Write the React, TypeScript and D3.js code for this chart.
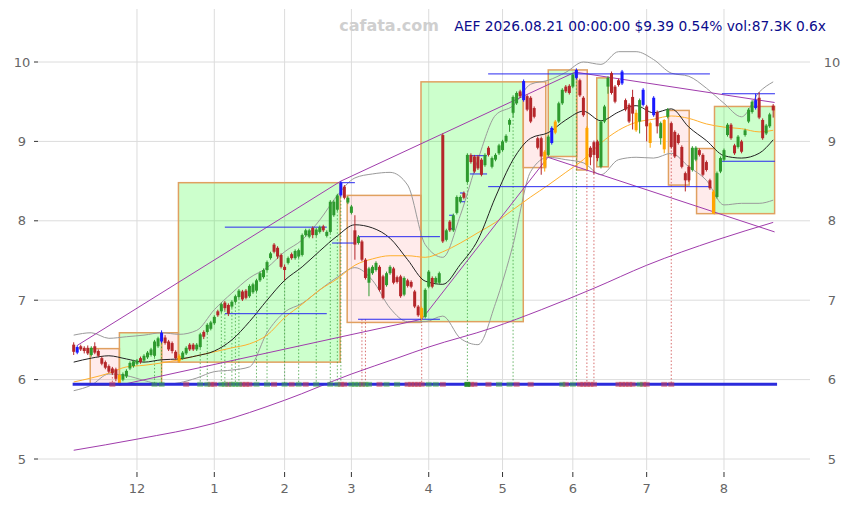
import React from "react";
import * as d3 from "d3";

// month ticks (trading-day index of first session of each month)
const monthIdx = [18, 40, 60, 79, 101, 122, 142, 163, 185];
const monthLabels = ["12", "1", "2", "3", "4", "5", "6", "7", "8"];
const priceTicks = [5, 6, 7, 8, 9, 10];

// daily candles, AEF, 2025-11-04 .. 2026-08-21
const opens = [
  6.44, 6.34, 6.42, 6.40, 6.40, 6.31, 6.42, 6.36, 6.27, 6.22, 6.17, 6.14, 6.13, 6.06, 6.00, 6.04, 6.14, 6.17, 6.20, 6.27,
  6.24, 6.28, 6.31, 6.30, 6.42, 6.48, 6.53, 6.48, 6.46, 6.35, 6.30, 6.27, 6.33, 6.44, 6.44, 6.38, 6.41, 6.60, 6.60, 6.64,
  6.71, 6.86, 6.86, 6.97, 6.94, 6.92, 6.98, 7.04, 7.11, 7.12, 7.05, 7.10, 7.12, 7.25, 7.29, 7.38, 7.53, 7.70, 7.66, 7.57,
  7.42, 7.47, 7.58, 7.53, 7.55, 7.57, 7.82, 7.80, 7.91, 7.82, 7.86, 7.93, 7.81, 7.86, 8.07, 8.14, 8.32, 8.43, 8.23, 8.10,
  7.88, 7.72, 7.74, 7.51, 7.22, 7.34, 7.38, 7.42, 7.30, 7.19, 7.34, 7.40, 7.29, 7.30, 7.07, 7.25, 7.23, 7.11, 6.92, 6.90,
  6.79, 7.17, 7.28, 7.22, 7.22, 9.08, 7.76, 7.99, 7.88, 8.10, 8.24, 8.35, 8.49, 8.83, 8.81, 8.81, 8.77, 8.70, 8.92, 8.68,
  8.77, 8.85, 8.89, 9.00, 9.21, 9.36, 9.48, 9.63, 9.52, 9.57, 9.55, 9.42, 9.04, 9.04, 8.87, 8.83, 8.98, 9.11, 9.25, 9.48,
  9.69, 9.70, 9.69, 9.80, 9.77, 9.55, 9.17, 8.92, 8.99, 9.00, 8.68, 9.25, 9.69, 9.86, 9.69, 9.77, 9.73, 9.52, 9.46, 9.56,
  9.36, 9.25, 9.46, 9.44, 9.23, 9.33, 9.37, 9.04, 9.27, 9.31, 9.23, 9.12, 9.08, 8.93, 8.60, 8.68, 8.64, 8.77, 8.89, 8.83,
  8.74, 8.51, 8.37, 8.30, 8.62, 8.77, 9.08, 9.21, 8.95, 8.93, 9.00, 9.08, 9.25, 9.37, 9.42, 9.55, 9.27, 9.10, 9.19, 9.45,
];
const closes = [
  6.35, 6.41, 6.38, 6.36, 6.33, 6.40, 6.34, 6.30, 6.20, 6.15, 6.10, 6.08, 6.01, 5.95, 6.07, 6.11, 6.21, 6.23, 6.24, 6.22,
  6.30, 6.34, 6.38, 6.48, 6.52, 6.59, 6.46, 6.38, 6.36, 6.27, 6.23, 6.34, 6.40, 6.38, 6.38, 6.44, 6.57, 6.54, 6.69, 6.72,
  6.79, 6.81, 6.95, 6.90, 6.83, 6.98, 7.05, 7.12, 7.01, 7.03, 7.18, 7.20, 7.25, 7.34, 7.38, 7.48, 7.59, 7.61, 7.55, 7.42,
  7.38, 7.53, 7.53, 7.62, 7.63, 7.82, 7.88, 7.88, 7.82, 7.89, 7.92, 7.88, 7.86, 8.24, 8.24, 8.32, 8.48, 8.29, 8.29, 8.18,
  7.70, 7.80, 7.51, 7.28, 7.40, 7.42, 7.47, 7.13, 7.03, 7.34, 7.42, 7.22, 7.23, 7.05, 7.28, 7.18, 7.17, 6.92, 6.81, 6.78,
  7.13, 7.36, 7.17, 7.28, 7.34, 7.74, 7.88, 7.88, 8.07, 8.30, 8.30, 8.29, 8.83, 8.74, 8.62, 8.66, 8.58, 8.83, 8.83, 8.79,
  8.83, 8.95, 9.00, 9.07, 9.27, 9.56, 9.61, 9.57, 9.76, 9.40, 9.25, 9.31, 8.92, 8.81, 8.68, 9.06, 9.17, 9.25, 9.48, 9.65,
  9.63, 9.61, 9.84, 9.90, 9.58, 9.33, 8.70, 8.80, 8.83, 8.79, 9.25, 9.44, 9.80, 9.61, 9.50, 9.71, 9.88, 9.40, 9.25, 9.35,
  9.14, 9.52, 9.65, 9.19, 8.98, 9.55, 9.19, 9.23, 8.90, 9.40, 8.93, 8.81, 8.98, 8.68, 8.51, 8.51, 8.92, 8.92, 8.83, 8.58,
  8.64, 8.41, 8.09, 8.60, 8.79, 8.89, 9.21, 9.04, 8.85, 9.06, 8.87, 9.14, 9.40, 9.50, 9.52, 9.30, 9.04, 9.20, 9.34, 9.39,
];
const highs = [
  6.47, 6.43, 6.44, 6.42, 6.43, 6.42, 6.47, 6.38, 6.29, 6.24, 6.19, 6.16, 6.15, 6.07, 6.09, 6.13, 6.23, 6.25, 6.26, 6.29,
  6.32, 6.36, 6.40, 6.50, 6.54, 6.62, 6.56, 6.50, 6.48, 6.37, 6.32, 6.36, 6.42, 6.46, 6.46, 6.46, 6.59, 6.62, 6.71, 6.74,
  6.81, 6.88, 6.97, 6.99, 6.96, 7.00, 7.07, 7.14, 7.13, 7.14, 7.20, 7.22, 7.27, 7.36, 7.40, 7.50, 7.61, 7.72, 7.68, 7.59,
  7.45, 7.55, 7.60, 7.64, 7.65, 7.84, 7.90, 7.90, 7.93, 7.91, 7.94, 7.95, 7.88, 8.26, 8.26, 8.34, 8.50, 8.45, 8.31, 8.20,
  8.07, 7.82, 7.76, 7.53, 7.42, 7.44, 7.49, 7.44, 7.32, 7.36, 7.44, 7.42, 7.31, 7.32, 7.30, 7.27, 7.25, 7.13, 6.94, 6.92,
  7.15, 7.38, 7.30, 7.30, 7.36, 9.10, 7.90, 8.01, 8.09, 8.32, 8.32, 8.37, 8.85, 8.85, 8.83, 8.83, 8.79, 8.85, 8.94, 8.81,
  8.85, 8.97, 9.02, 9.09, 9.29, 9.58, 9.63, 9.65, 9.78, 9.59, 9.57, 9.44, 9.06, 9.06, 8.89, 9.08, 9.19, 9.27, 9.50, 9.67,
  9.71, 9.72, 9.86, 9.92, 9.79, 9.57, 9.19, 8.94, 9.01, 9.02, 9.27, 9.46, 9.82, 9.88, 9.71, 9.79, 9.90, 9.54, 9.48, 9.65,
  9.40, 9.54, 9.67, 9.46, 9.25, 9.57, 9.39, 9.25, 9.28, 9.42, 9.25, 9.14, 9.10, 8.95, 8.62, 8.70, 8.94, 8.94, 8.91, 8.85,
  8.76, 8.53, 8.39, 8.62, 8.81, 8.91, 9.23, 9.23, 8.97, 9.08, 9.02, 9.16, 9.42, 9.52, 9.60, 9.62, 9.29, 9.22, 9.36, 9.47,
];
const lows = [
  6.31, 6.32, 6.36, 6.33, 6.31, 6.29, 6.32, 6.28, 6.18, 6.13, 6.08, 6.06, 5.98, 5.93, 5.98, 6.02, 6.12, 6.15, 6.18, 6.20,
  6.22, 6.26, 6.29, 6.28, 6.40, 6.46, 6.44, 6.36, 6.33, 6.25, 6.21, 6.25, 6.31, 6.36, 6.36, 6.36, 6.39, 6.51, 6.58, 6.62,
  6.69, 6.79, 6.84, 6.87, 6.80, 6.90, 6.96, 7.02, 6.99, 7.01, 7.03, 7.08, 7.10, 7.23, 7.27, 7.36, 7.51, 7.59, 7.52, 7.40,
  7.25, 7.45, 7.51, 7.51, 7.53, 7.55, 7.80, 7.78, 7.78, 7.80, 7.84, 7.86, 7.79, 7.84, 8.05, 8.12, 8.30, 8.27, 8.21, 8.08,
  7.51, 7.70, 7.49, 7.26, 7.05, 7.32, 7.36, 7.11, 7.01, 7.17, 7.32, 7.20, 7.21, 7.03, 7.05, 7.16, 7.15, 6.90, 6.79, 6.75,
  6.77, 7.15, 7.15, 7.20, 7.20, 7.72, 7.74, 7.86, 7.86, 8.08, 8.22, 8.27, 8.47, 8.72, 8.60, 8.64, 8.56, 8.68, 8.81, 8.66,
  8.75, 8.83, 8.87, 8.98, 9.12, 9.30, 9.46, 9.55, 9.50, 9.38, 9.23, 9.29, 8.90, 8.58, 8.62, 8.81, 8.96, 9.09, 9.23, 9.46,
  9.61, 9.59, 9.67, 9.78, 9.56, 9.31, 8.64, 8.70, 8.58, 8.75, 8.66, 9.23, 9.60, 9.59, 9.48, 9.69, 9.71, 9.38, 9.23, 9.15,
  9.12, 9.10, 9.44, 9.00, 8.92, 9.31, 9.10, 8.96, 8.85, 9.29, 8.91, 8.79, 8.96, 8.66, 8.37, 8.49, 8.62, 8.75, 8.81, 8.56,
  8.62, 8.39, 8.09, 8.28, 8.60, 8.75, 9.06, 9.02, 8.83, 8.91, 8.85, 9.06, 9.23, 9.35, 9.40, 9.28, 9.02, 9.08, 9.17, 9.30,
];
const blueIdx = [1, 25, 76, 128, 136, 143, 156, 162, 165, 194];
const orangeIdx = [13, 30, 99, 134, 137, 146, 160, 164, 168, 182];

// indicator lines, sampled every 5 sessions
const sampleIdx = [
  0, 5, 10, 15, 20, 25, 30, 35, 40, 45, 50, 55, 60, 65, 70, 75, 80, 85, 90, 95, 100,
  105, 110, 115, 120, 125, 130, 135, 140, 145, 150, 155, 160, 165, 170, 175, 180, 185, 190, 195, 199,
];
const maFast = [
  6.22, 6.27, 6.30, 6.26, 6.22, 6.25, 6.26, 6.30, 6.36, 6.50, 6.73, 7.00, 7.25, 7.42, 7.62, 7.81, 7.95, 7.91, 7.78, 7.51, 7.24,
  7.20, 7.45, 7.76, 8.30, 8.77, 9.04, 9.11, 9.27, 9.38, 9.26, 9.37, 9.45, 9.36, 9.41, 9.18, 9.01, 8.82, 8.79, 8.85, 9.02,
];
const maSlow = [
  5.97, 6.02, 6.08, 6.16, 6.18, 6.21, 6.25, 6.30, 6.35, 6.40, 6.45, 6.56, 6.78, 6.95, 7.13, 7.27, 7.44, 7.52, 7.56, 7.56, 7.54,
  7.61, 7.72, 7.85, 7.98, 8.14, 8.30, 8.45, 8.61, 8.77, 8.98, 9.14, 9.24, 9.28, 9.32, 9.29, 9.22, 9.18, 9.16, 9.12, 9.14,
];
const bandUpper = [
  6.56, 6.59, 6.52, 6.54, 6.56, 6.59, 6.57, 6.62, 6.88, 7.09, 7.28, 7.41, 7.61, 7.76, 8.01, 8.32, 8.54, 8.59, 8.61, 8.45, 7.70,
  7.54, 8.07, 8.77, 9.33, 9.45, 9.72, 9.77, 9.87, 10.0, 9.97, 10.13, 10.13, 10.03, 9.86, 9.82, 9.67, 9.48, 9.31, 9.62, 9.75,
];
const bandLower = [
  5.86, 5.93, 6.07, 6.05, 5.99, 5.94, 5.96, 6.02, 6.10, 6.12, 6.16, 6.59, 6.85, 6.96, 7.13, 7.29, 7.41, 7.25, 6.90, 6.73, 6.73,
  6.80, 6.52, 6.44, 6.96, 7.70, 8.62, 8.80, 8.77, 8.73, 8.58, 8.77, 8.80, 8.79, 8.85, 8.68, 8.51, 8.20, 8.22, 8.22, 8.26,
];

// long purple curve
const curveIdx = [0, 18, 40, 60, 79, 92, 101, 119, 133, 148, 163, 183, 199];
const curvePrice = [5.11, 5.25, 5.45, 5.74, 6.07, 6.27, 6.41, 6.65, 6.88, 7.15, 7.44, 7.76, 7.98];

// straight trend lines: [fromIdx, fromPrice, toIdx, toPrice]
const trendLines = [
  [1, 6.43, 76, 8.5],
  [76, 8.5, 143, 9.88],
  [143, 9.87, 199.4, 9.49],
  [13, 5.93, 99, 6.76],
  [99, 6.76, 134.9, 8.8],
  [134.9, 8.8, 199.4, 7.86],
];

// boxes: swing ranges
const boxFrom = [4.7, 13.0, 25.0, 29.8, 77.8, 98.8, 127.9, 135.0, 143.1, 148.8, 169.2, 177.2, 182.3];
const boxTo = [13.0, 25.0, 29.8, 75.8, 98.8, 127.9, 134.3, 143.1, 146.1, 152.1, 175.1, 182.3, 199.4];
const boxTop = [6.39, 6.59, 6.59, 8.48, 8.32, 9.75, 9.75, 9.9, 9.9, 9.8, 9.39, 8.91, 9.44];
const boxBottom = [5.93, 5.93, 6.22, 6.22, 6.72, 6.73, 8.67, 8.81, 8.64, 8.68, 8.45, 8.09, 8.09];
const boxUp = [false, true, false, true, false, true, false, true, false, true, false, false, true];

// blue level segments: [fromIdx, toIdx, price]
const levels = [
  [43, 72, 6.83], [43, 72, 7.92], [73.5, 80, 7.72], [75.8, 80, 8.48],
  [80.9, 104.2, 7.8], [80.9, 104.2, 6.76], [117.9, 181, 9.85], [117.9, 181, 8.43],
  [184.4, 199.5, 9.6], [184.4, 199.5, 8.75], [106.8, 108.2, 8.07], [106.8, 108.2, 7.9],
  [109.9, 111.3, 8.35], [109.9, 111.3, 8.24], [112.7, 117.6, 8.82], [112.7, 117.6, 8.59],
];

// signal markers on the base line
const sellIdx = [11, 32, 39, 40, 44, 48, 49, 50, 57, 62, 66, 76, 77, 82, 87, 95, 96, 97, 98, 99, 105, 113, 114, 118, 126, 130,
  140, 144, 145, 146, 147, 148, 155, 156, 157, 158, 159, 162, 163, 168, 170];
const buyIdx = [23, 25, 36, 38, 42, 43, 45, 46, 47, 52, 55, 60, 64, 69, 73, 75, 79, 80, 81, 83, 84, 89, 92, 101, 103, 112, 121,
  124, 139, 142, 161];
const basePrice = 5.94;

// dotted drop lines: index, top price, buy?
const dropIdx = [23, 25, 36, 38, 42, 43, 45, 46, 47, 52, 55, 60, 64, 69, 73, 75, 76, 112, 125, 143, 11, 82, 83, 99, 146, 148, 170];
const dropTop = [6.28, 6.46, 6.39, 6.58, 6.84, 6.87, 6.9, 6.96, 7.02, 7.1, 7.36, 7.25, 7.53, 7.8, 7.84, 8.12, 8.3, 8.47, 9.36, 9.8,
  6.12, 6.76, 6.76, 6.78, 8.64, 8.55, 8.93];
const dropBuy = [true, true, true, true, true, true, true, true, true, true, true, true, true, true, true, true, true, true, true, true,
  false, false, false, false, false, false, false];

const W = 849;
const H = 505;

export default function App() {
  const x = d3.scaleLinear().domain([0, 199]).range([73.7, 773.2]);
  const y = d3.scaleLinear().domain([5, 10]).range([459, 62]);

  const sampled = (vals: number[]) =>
    d3
      .line<number>()
      .x((_, i) => x(sampleIdx[i]))
      .y((d) => y(d))
      .curve(d3.curveMonotoneX)(vals) || "";

  const longCurve =
    d3
      .line<number>()
      .x((_, i) => x(curveIdx[i]))
      .y((d) => y(d))
      .curve(d3.curveMonotoneX)(curvePrice) || "";

  const candleColor = (i: number) => {
    if (blueIdx.includes(i)) return "#1a1aff";
    if (orangeIdx.includes(i)) return "#ffa500";
    return closes[i] >= opens[i] ? "#2e9a2e" : "#b5262a";
  };

  const bw = 3;

  return (
    <div style={{ position: "absolute", left: 0, top: 0 }}>
      <svg width={W} height={H} style={{ display: "block", background: "#fff" }} fontFamily="DejaVu Sans, sans-serif">
        {/* grid */}
        {priceTicks.map((p) => (
          <line key={"h" + p} x1={38} x2={810} y1={y(p)} y2={y(p)} stroke="#dcdcdc" strokeWidth={1} />
        ))}
        {monthIdx.map((m) => (
          <line key={"v" + m} x1={x(m)} x2={x(m)} y1={9} y2={470} stroke="#dcdcdc" strokeWidth={1} />
        ))}

        {/* boxes */}
        {boxFrom.map((b, i) => (
          <rect
            key={"b" + i}
            x={x(b)}
            y={y(boxTop[i])}
            width={x(boxTo[i]) - x(b)}
            height={y(boxBottom[i]) - y(boxTop[i])}
            fill={boxUp[i] ? "rgba(0,255,0,0.2)" : "rgba(255,0,0,0.08)"}
            stroke="#e0a060"
            strokeWidth={1.5}
          />
        ))}

        {/* dotted drop lines */}
        {dropIdx.map((d, i) => (
          <line
            key={"d" + i}
            x1={x(d)}
            x2={x(d)}
            y1={y(dropTop[i])}
            y2={y(basePrice)}
            stroke={dropBuy[i] ? "rgba(40,150,40,0.7)" : "rgba(200,50,50,0.7)"}
            strokeWidth={1}
            strokeDasharray="1.5,2"
          />
        ))}

        {/* bands and averages */}
        <path d={sampled(bandUpper)} fill="none" stroke="#9a9a9a" strokeWidth={1} />
        <path d={sampled(bandLower)} fill="none" stroke="#9a9a9a" strokeWidth={1} />
        <path d={sampled(maSlow)} fill="none" stroke="#ffb02e" strokeWidth={1} />
        <path d={sampled(maFast)} fill="none" stroke="#222" strokeWidth={1} />

        {/* trend lines */}
        <path d={longCurve} fill="none" stroke="#a03cac" strokeWidth={1} />
        {trendLines.map((t, i) => (
          <line key={"t" + i} x1={x(t[0])} y1={y(t[1])} x2={x(t[2])} y2={y(t[3])} stroke="#a03cac" strokeWidth={1} />
        ))}

        {/* levels */}
        {levels.map((l, i) => (
          <line key={"l" + i} x1={x(l[0])} x2={x(l[1])} y1={y(l[2])} y2={y(l[2])} stroke="#2a2af0" strokeWidth={1} />
        ))}

        {/* candles */}
        {opens.map((o, i) => {
          const c = closes[i];
          const col = candleColor(i);
          const top = y(Math.max(o, c));
          const bot = y(Math.min(o, c));
          return (
            <g key={"c" + i}>
              <line x1={x(i)} x2={x(i)} y1={y(highs[i])} y2={y(lows[i])} stroke={col} strokeWidth={1} />
              <rect x={x(i) - bw / 2} y={top} width={bw} height={Math.max(1, bot - top)} fill={col} />
            </g>
          );
        })}

        {/* base line and signals */}
        <line x1={x(-0.3)} x2={x(200.1)} y1={y(basePrice)} y2={y(basePrice)} stroke="#2b2bdc" strokeWidth={3} />
        {sellIdx.map((s) => (
          <rect key={"s" + s} x={x(s) - 3} y={y(basePrice) - 2.5} width={6} height={5} fill="rgba(200,60,80,0.55)" />
        ))}
        {buyIdx.map((s) => (
          <rect
            key={"g" + s}
            x={x(s) - 3}
            y={y(basePrice) - 2.5}
            width={6}
            height={5}
            fill={s === 112 ? "rgba(30,140,30,0.9)" : "rgba(60,170,60,0.5)"}
          />
        ))}

        {/* axes */}
        {priceTicks.map((p) => (
          <g key={"yl" + p}>
            <line x1={34} x2={38} y1={y(p)} y2={y(p)} stroke="#333" />
            <text x={22} y={y(p) + 4.5} fontSize={13} fill="#666" textAnchor="middle">
              {p}
            </text>
            <text x={832} y={y(p) + 4.5} fontSize={13} fill="#666" textAnchor="middle">
              {p}
            </text>
          </g>
        ))}
        {monthIdx.map((m, i) => (
          <g key={"xl" + m}>
            <line x1={x(m)} x2={x(m)} y1={472} y2={477} stroke="#333" />
            <text x={x(m)} y={493} fontSize={13} fill="#666" textAnchor="middle">
              {monthLabels[i]}
            </text>
          </g>
        ))}

        {/* header */}
        <text x={389} y={31} fontSize={16} fontWeight="bold" fill="#cfcfcf" textAnchor="middle">
          cafata.com
        </text>
        <text x={826} y={31} fontSize={13.8} fill="#0b0b8c" textAnchor="end">
          AEF 2026.08.21 00:00:00 $9.39 0.54% vol:87.3K 0.6x
        </text>
      </svg>
    </div>
  );
}
